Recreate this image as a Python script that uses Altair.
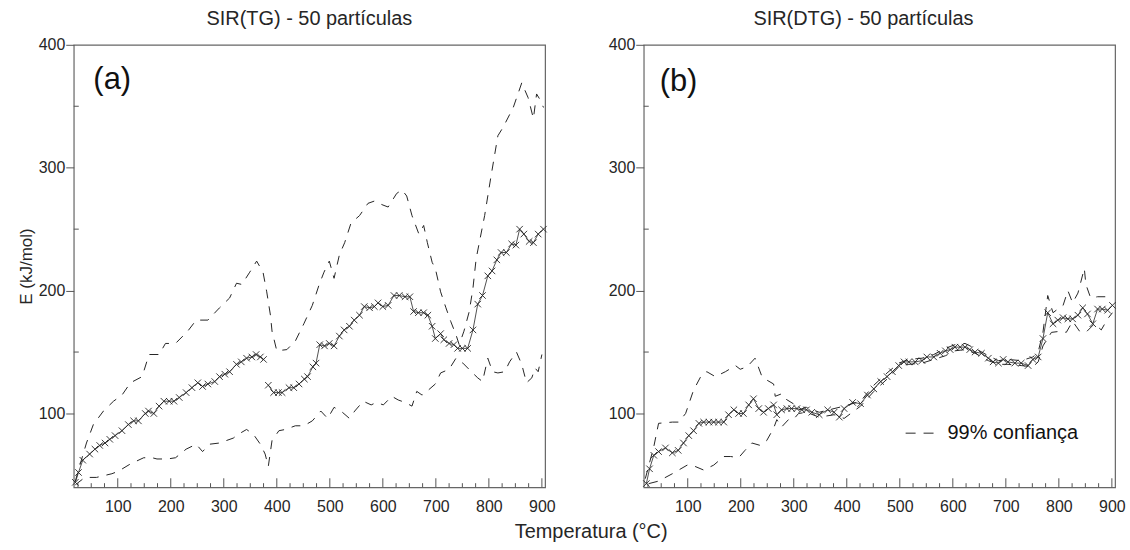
import altair as alt
import pandas as pd

# ---------------- Panel (a): SIR(TG) ----------------
# central estimate (x markers), two segments (jump near 380 °C)
a_mid1_T = [20, 26, 34, 47, 57, 66, 76, 85, 95, 108, 120, 130, 139, 152, 158, 168, 178, 187, 197, 206,
            216, 229, 240, 251, 260, 270, 283, 292, 302, 311, 324, 333, 343, 353, 361, 369, 375]
a_mid1_E = [44, 52, 62, 67, 71, 74, 76, 79, 82, 86, 91, 94, 94, 100, 102, 100, 106, 110, 110, 110,
            113, 117, 121, 125, 122, 124, 126, 130, 132, 134, 140, 142, 145, 146, 148, 146, 144]
a_mid2_T = [384, 394, 403, 410, 423, 432, 442, 452, 458, 468, 474, 481, 490, 499, 508, 518, 527, 537, 546, 556,
            565, 575, 584, 591, 600, 610, 621, 631, 642, 651, 658, 667, 677, 685, 693, 699, 709, 715, 725, 734,
            741, 750, 760, 770, 779, 788, 798, 806, 815, 823, 833, 843, 851, 858, 866, 876, 884, 893, 903]
a_mid2_E = [123, 117, 117, 117, 121, 121, 124, 128, 130, 138, 141, 156, 155, 157, 155, 163, 168, 171, 176, 180,
            187, 186, 187, 190, 187, 188, 196, 196, 195, 195, 183, 182, 182, 180, 171, 161, 165, 160, 157, 156,
            153, 153, 153, 168, 189, 196, 212, 216, 225, 231, 231, 238, 237, 250, 246, 240, 239, 246, 250]
# 99% confidence bounds
a_up_T = [20, 30, 41, 54, 73, 92, 108, 124, 146, 159, 178, 190, 209, 232, 248, 270, 292, 311, 324, 334,
          349, 362, 374, 381, 388, 391, 400, 419, 435, 451, 467, 480, 489, 499, 508, 518, 528, 540, 556, 572,
          585, 598, 610, 626, 636, 645, 655, 668, 677, 684, 693, 699, 709, 719, 728, 738, 744, 753, 763, 770,
          776, 792, 804, 817, 827, 846, 862, 874, 884, 890, 897, 903]
a_up_E = [45, 60, 76, 91, 102, 110, 115, 125, 130, 148, 148, 157, 157, 167, 176, 176, 186, 194, 206, 205,
          215, 224, 215, 199, 180, 167, 151, 152, 159, 173, 188, 205, 215, 224, 210, 229, 239, 255, 261, 271,
          273, 270, 268, 279, 282, 277, 261, 246, 253, 239, 223, 218, 199, 186, 175, 164, 156, 167, 183, 202,
          226, 261, 293, 326, 333, 349, 369, 357, 340, 360, 355, 349]
a_lo_T = [20, 38, 60, 89, 101, 124, 149, 165, 174, 194, 209, 229, 248, 260, 273, 292, 305, 318, 327, 343,
          356, 369, 378, 384, 391, 404, 416, 435, 451, 467, 483, 496, 508, 521, 537, 547, 563, 578, 588, 601,
          617, 629, 642, 655, 664, 674, 683, 699, 709, 725, 738, 751, 767, 779, 788, 798, 807, 817, 830, 839,
          852, 862, 871, 881, 887, 893, 900]
a_lo_E = [42, 48, 48, 51, 53, 59, 64, 64, 63, 63, 64, 71, 75, 69, 75, 76, 78, 80, 83, 87,
          83, 75, 67, 57, 78, 86, 87, 90, 90, 94, 102, 96, 105, 102, 96, 102, 110, 107, 109, 107,
          114, 111, 109, 106, 118, 115, 118, 124, 133, 136, 145, 141, 134, 129, 126, 145, 134, 133, 134, 142,
          150, 140, 125, 129, 137, 134, 148]

# ---------------- Panel (b): SIR(DTG) ----------------
b_mid_T = [22, 28, 36, 45, 58, 71, 82, 92, 102, 111, 121, 130, 140, 149, 158, 168, 177, 187, 196, 205,
           215, 224, 234, 243, 252, 262, 268, 277, 287, 296, 306, 315, 324, 334, 348, 364, 376, 386, 395, 411,
           426, 439, 451, 464, 476, 486, 498, 508, 517, 529, 542, 551, 564, 576, 586, 595, 604, 614, 623, 632,
           642, 654, 667, 676, 686, 695, 704, 717, 729, 742, 751, 761, 770, 779, 789, 798, 808, 817, 826, 836,
           845, 854, 864, 873, 882, 892, 901]
b_mid_E = [43, 55, 66, 69, 72, 68, 70, 76, 82, 86, 92, 93, 93, 93, 93, 93, 99, 103, 100, 100,
           107, 112, 104, 101, 104, 107, 99, 103, 104, 104, 104, 103, 103, 101, 99, 103, 101, 97, 104, 109,
           108, 115, 120, 126, 130, 134, 139, 142, 142, 142, 143, 146, 146, 149, 151, 152, 154, 154, 154, 152,
           150, 149, 145, 142, 141, 144, 142, 141, 141, 139, 144, 146, 161, 182, 173, 176, 178, 177, 177, 180,
           186, 181, 173, 185, 185, 184, 188]
b_up_T = [20, 36, 45, 71, 83, 96, 111, 127, 136, 152, 171, 190, 199, 212, 227, 240, 246, 262, 265, 277,
          284, 299, 309, 324, 348, 376, 395, 426, 451, 476, 498, 517, 542, 564, 586, 604, 623, 642, 667, 686,
          704, 729, 751, 761, 770, 779, 789, 798, 808, 817, 826, 836, 848, 851, 860, 873, 889, 898]
b_up_E = [47, 73, 92, 93, 93, 100, 119, 132, 134, 130, 134, 139, 136, 138, 145, 130, 128, 124, 114, 116,
          112, 108, 103, 105, 101, 104, 106, 110, 123, 133, 141, 144, 145, 148, 153, 156, 157, 153, 147, 143,
          144, 143, 146, 150, 166, 196, 182, 185, 188, 200, 190, 198, 218, 205, 194, 195, 195, 194]
b_lo_T = [27, 45, 71, 99, 108, 130, 149, 168, 181, 196, 208, 221, 237, 249, 262, 268, 277, 290, 299, 309,
          324, 348, 376, 395, 426, 451, 476, 498, 517, 542, 564, 586, 604, 623, 642, 667, 686, 704, 729, 751,
          761, 770, 786, 804, 814, 826, 839, 851, 867, 880, 892, 901]
b_lo_E = [43, 45, 51, 58, 58, 54, 58, 65, 65, 64, 70, 76, 74, 78, 88, 95, 89, 95, 95, 100,
          101, 97, 99, 96, 106, 118, 128, 138, 140, 141, 144, 147, 151, 152, 149, 143, 140, 140, 139, 138,
          142, 155, 166, 167, 166, 175, 167, 166, 173, 168, 177, 182]

# ---------------- texts and ticks ----------------
panel_titles = ["SIR(TG) - 50 partículas", "SIR(DTG) - 50 partículas"]
panel_labels = ["(a)", "(b)"]
x_title = "Temperatura (°C)"
y_title = "E (kJ/mol)"
legend_label = "99% confiança"
x_major = [100, 200, 300, 400, 500, 600, 700, 800, 900]
x_minor = [v for v in range(25, 900, 25) if v % 100 != 0]
y_major = [100, 200, 300, 400]
y_minor = [150, 250, 350]

FONT = "Liberation Sans"
INK = "#262626"
XD = [17, 906]
YD = [40, 400]
W, H = 473, 444


def xenc(field="T"):
    return alt.X(f"{field}:Q", scale=alt.Scale(domain=XD, nice=False, zero=False),
                 axis=alt.Axis(values=x_major, ticks=False, domain=False, grid=False, labelPadding=11,
                               labelFontSize=16, labelFont=FONT, labelColor=INK, title=None,
                               labelFlush=False, format="d"))


def yenc(field, show_title):
    ax = dict(values=y_major, tickSize=8, tickColor="#555", domain=False, grid=False, labelPadding=1,
              labelFontSize=16, labelFont=FONT, labelColor=INK, format="d")
    if show_title:
        ax.update(title=y_title, titleFont=FONT, titleFontSize=17, titleFontWeight="normal",
                  titleColor=INK, titlePadding=3)
    else:
        ax.update(title=None)
    return alt.Y(f"{field}:Q", scale=alt.Scale(domain=YD, nice=False, zero=False), axis=alt.Axis(**ax))


def panel(mids, upT, upE, loT, loE, title, title_dx, label, show_ytitle, legend):
    mid_df = pd.concat([pd.DataFrame({"T": t, "E": e, "seg": i}) for i, (t, e) in enumerate(mids)])
    up_df = pd.DataFrame({"T": upT, "E": upE})
    lo_df = pd.DataFrame({"T": loT, "E": loE})
    ye = yenc("E", show_ytitle)

    mid_line = alt.Chart(mid_df).mark_line(color=INK, strokeWidth=0.8).encode(
        x=xenc(), y=ye, detail="seg:N")
    mid_pts = alt.Chart(mid_df).mark_point(shape="M-1,-1L1,1M-1,1L1,-1", size=42, filled=False,
                                           color=INK, strokeWidth=0.9, opacity=1).encode(x=xenc(), y=ye)
    up_line = alt.Chart(up_df).mark_line(color=INK, strokeWidth=1, strokeDash=[9, 8]).encode(x=xenc(), y=ye)
    lo_line = alt.Chart(lo_df).mark_line(color=INK, strokeWidth=1, strokeDash=[9, 8]).encode(x=xenc(), y=ye)

    # inward ticks on the bottom axis and minor ticks on the left axis
    xt = pd.DataFrame({"T": x_major + x_minor,
                       "E": [YD[0]] * (len(x_major) + len(x_minor)),
                       "E2": [YD[0] + 7.3] * len(x_major) + [YD[0] + 3.3] * len(x_minor)})
    xticks = alt.Chart(xt).mark_rule(color="#555", strokeWidth=1).encode(
        x=xenc(), y=ye, y2="E2:Q")
    yt = pd.DataFrame({"T": [XD[0]] * len(y_minor), "T2": [XD[0] + 9.5] * len(y_minor), "E": y_minor})
    yticks = alt.Chart(yt).mark_rule(color="#555", strokeWidth=1).encode(
        x=xenc(), x2="T2:Q", y=ye)

    lab = alt.Chart(pd.DataFrame({"T": [label[1]], "E": [label[2]], "txt": [label[0]]})).mark_text(
        align="left", baseline="middle", fontSize=31, font=FONT, color="#111").encode(
        x=xenc(), y=ye, text="txt:N")

    layers = [xticks, yticks, up_line, lo_line, mid_line, mid_pts, lab]
    if legend:
        ld = pd.DataFrame({"T": [511], "T2": [564], "E": [84]})
        lrule = alt.Chart(ld).mark_rule(color=INK, strokeWidth=1, strokeDash=[10, 8]).encode(
            x=xenc(), x2="T2:Q", y=ye)
        ltxt = alt.Chart(pd.DataFrame({"T": [590], "E": [84], "txt": [legend_label]})).mark_text(
            align="left", baseline="middle", fontSize=20, font=FONT, color="#111").encode(
            x=xenc(), y=ye, text="txt:N")
        layers += [lrule, ltxt]

    return alt.layer(*layers).properties(
        width=W, height=H,
        title=alt.TitleParams(title, font=FONT, fontSize=20, fontWeight="normal", color=INK,
                              offset=8, dx=title_dx))


pa = panel([(a_mid1_T, a_mid1_E), (a_mid2_T, a_mid2_E)], a_up_T, a_up_E, a_lo_T, a_lo_E,
           panel_titles[0], 0, (panel_labels[0], 54, 371), True, False)
pb = panel([(b_mid_T, b_mid_E)], b_up_T, b_up_E, b_lo_T, b_lo_E,
           panel_titles[1], -16, (panel_labels[1], 47, 370), False, True)

chart = alt.hconcat(pa, pb, spacing=51).properties(
    title=alt.TitleParams(x_title, orient="bottom", anchor="middle", font=FONT, fontSize=20,
                          fontWeight="normal", color=INK, offset=7, dx=20),
    padding={"left": 16, "top": 7, "right": 4, "bottom": 2},
).configure_view(stroke="#666", strokeWidth=1.2)

chart.save("out.html", embed_options={"renderer": "svg", "actions": False})
